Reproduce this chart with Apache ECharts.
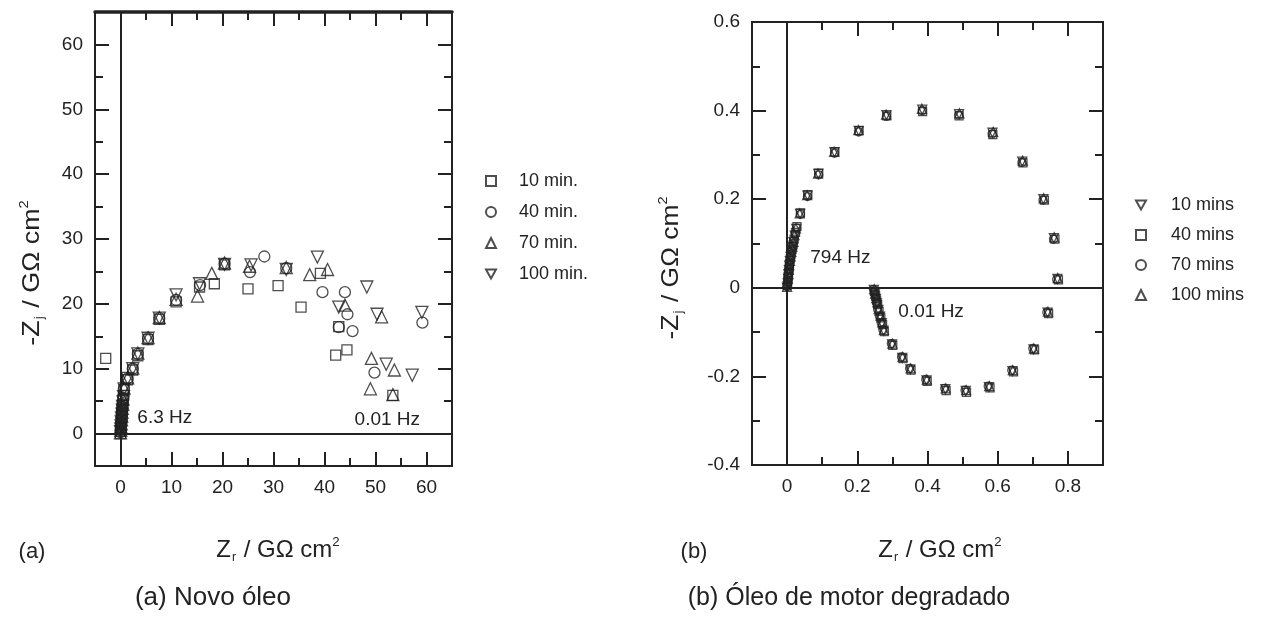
<!DOCTYPE html>
<html>
<head>
<meta charset="utf-8">
<script src="https://cdn.jsdelivr.net/npm/echarts@6/dist/echarts.min.js"></script>
<style>
html, body { margin: 0; padding: 0; background: #fff; }
#chart { width: 1264px; height: 621px; }
</style>
</head>
<body>
<div id="chart"></div>
<script>
// (a) novo oleo: Nyquist, -Zj vs Zr (G ohm cm2)
var namesA = ["10 min.", "40 min.", "70 min.", "100 min."];
var a10 = [[0, 0], [0.05, 0.4], [0.1, 0.9], [0.15, 1.4], [0.2, 2], [0.25, 2.6], [0.3, 3.2], [0.35, 3.8],
	[0.4, 4.4], [0.5, 5.1], [0.6, 5.9], [0.7, 6.8], [1.4, 8.3], [2.4, 9.8], [3.4, 12], [5.4, 14.5],
	[7.6, 17.6], [10.9, 20.3], [15.5, 22.6], [18.4, 23.1], [20.4, 26], [25, 22.3], [30.9, 22.8],
	[35.4, 19.5], [39.2, 24.7], [42.8, 16.5], [42.2, 12.1], [44.4, 12.9], [53.4, 5.9], [-2.9, 11.6]];
var a40 = [[0, 0.2], [0.05, 0.6], [0.1, 1.1], [0.15, 1.7], [0.2, 2.3], [0.25, 2.9], [0.3, 3.5], [0.4, 4.1],
	[0.45, 4.7], [0.55, 5.5], [0.65, 6.9], [1.4, 8.5], [2.4, 10], [3.4, 12.3], [5.4, 14.7], [7.6, 17.8],
	[10.9, 20.6], [15.6, 22.9], [20.4, 26.2], [25.4, 24.9], [28.2, 27.3], [32.5, 25.5], [39.6, 21.8],
	[44, 21.8], [44.5, 18.4], [42.8, 16.4], [45.5, 15.8], [49.8, 9.4], [59.2, 17.1]];
var a70 = [[0, 0.1], [0.05, 0.5], [0.1, 1], [0.15, 1.5], [0.2, 2.1], [0.25, 2.7], [0.3, 3.3], [0.35, 3.9],
	[0.45, 4.5], [0.5, 5.3], [0.7, 7], [1.4, 8.6], [2.4, 10.1], [3.4, 12.4], [5.4, 14.8], [7.6, 17.9],
	[10.9, 20.7], [15.1, 21.2], [17.9, 24.7], [20.4, 26.3], [25.3, 25.8], [32.5, 25.6], [37.1, 24.5],
	[40.6, 25.3], [44, 19.8], [51.2, 18], [49.2, 11.6], [49, 6.9], [53.7, 9.8], [53.4, 6]];
var a100 = [[0, 0.3], [0.05, 0.7], [0.1, 1.2], [0.15, 1.8], [0.2, 2.4], [0.3, 3], [0.35, 3.6], [0.4, 4.2],
	[0.5, 4.9], [0.6, 5.7], [0.7, 6.9], [1.4, 8.5], [2.4, 10], [3.4, 12.3], [5.4, 14.7], [7.6, 17.8],
	[10.9, 21.4], [15.5, 23.1], [20.4, 26.1], [25.6, 26], [32.5, 25.3], [38.6, 27.2], [42.8, 19.5],
	[48.3, 22.6], [50.3, 18.4], [52.1, 10.7], [57.2, 9], [59.1, 18.7]];

// (b) oleo de motor degradado
var namesB = ["10 mins", "40 mins", "70 mins", "100 mins"];
var b10 = [[0, 0], [0.002, 0.01], [0.003, 0.02], [0.004, 0.03], [0.005, 0.04], [0.006, 0.05], [0.008, 0.06],
	[0.01, 0.07], [0.013, 0.08], [0.016, 0.092], [0.018, 0.103], [0.022, 0.118], [0.026, 0.133],
	[0.037, 0.167], [0.058, 0.208], [0.089, 0.257], [0.135, 0.306], [0.204, 0.354], [0.283, 0.39],
	[0.385, 0.402], [0.49, 0.392], [0.585, 0.35], [0.67, 0.285], [0.73, 0.2], [0.76, 0.112], [0.77, 0.02],
	[0.742, -0.056], [0.702, -0.139], [0.642, -0.188], [0.575, -0.224], [0.509, -0.233], [0.451, -0.229],
	[0.397, -0.209], [0.351, -0.184], [0.328, -0.158], [0.299, -0.128], [0.275, -0.097], [0.27, -0.08],
	[0.265, -0.065], [0.26, -0.05], [0.256, -0.035], [0.253, -0.025], [0.25, -0.015], [0.247, -0.005]];
var b40 = [[0, 0.005], [0.002, 0.015], [0.003, 0.025], [0.004, 0.035], [0.006, 0.045], [0.007, 0.055],
	[0.009, 0.065], [0.011, 0.075], [0.014, 0.086], [0.017, 0.097], [0.02, 0.11], [0.024, 0.125],
	[0.028, 0.138], [0.038, 0.169], [0.059, 0.21], [0.09, 0.259], [0.136, 0.307], [0.205, 0.355],
	[0.284, 0.388], [0.386, 0.398], [0.49, 0.388], [0.586, 0.346], [0.672, 0.282], [0.733, 0.198],
	[0.763, 0.11], [0.773, 0.018], [0.745, -0.058], [0.705, -0.14], [0.645, -0.19], [0.578, -0.226],
	[0.511, -0.236], [0.453, -0.232], [0.399, -0.211], [0.353, -0.186], [0.33, -0.16], [0.301, -0.13],
	[0.277, -0.099], [0.272, -0.083], [0.267, -0.068], [0.262, -0.053], [0.258, -0.038],
	[0.255, -0.028], [0.252, -0.018], [0.249, -0.008]];
var b70 = [[0, 0.003], [0.002, 0.012], [0.003, 0.022], [0.005, 0.032], [0.006, 0.042], [0.007, 0.052],
	[0.009, 0.062], [0.011, 0.072], [0.014, 0.083], [0.017, 0.095], [0.019, 0.106], [0.023, 0.121],
	[0.027, 0.135], [0.038, 0.166], [0.058, 0.206], [0.09, 0.255], [0.135, 0.304], [0.204, 0.352],
	[0.283, 0.387], [0.385, 0.4], [0.489, 0.39], [0.584, 0.347], [0.669, 0.283], [0.729, 0.198],
	[0.759, 0.11], [0.768, 0.019], [0.74, -0.055], [0.7, -0.137], [0.64, -0.186], [0.573, -0.222],
	[0.507, -0.231], [0.449, -0.227], [0.395, -0.207], [0.349, -0.182], [0.326, -0.156], [0.297, -0.126],
	[0.273, -0.095], [0.268, -0.079], [0.263, -0.064], [0.258, -0.049], [0.255, -0.034],
	[0.252, -0.024], [0.249, -0.014], [0.246, -0.004]];
var b100 = [[0, 0.002], [0.001, 0.011], [0.002, 0.021], [0.004, 0.031], [0.005, 0.041], [0.006, 0.051],
	[0.008, 0.061], [0.01, 0.071], [0.012, 0.081], [0.015, 0.093], [0.018, 0.104], [0.021, 0.119],
	[0.025, 0.134], [0.036, 0.168], [0.057, 0.209], [0.088, 0.258], [0.134, 0.307], [0.203, 0.356],
	[0.282, 0.391], [0.384, 0.404], [0.491, 0.394], [0.587, 0.352], [0.671, 0.287], [0.731, 0.202],
	[0.761, 0.114], [0.771, 0.022], [0.743, -0.054], [0.703, -0.137], [0.643, -0.186], [0.576, -0.222],
	[0.51, -0.231], [0.452, -0.227], [0.398, -0.207], [0.352, -0.182], [0.329, -0.156], [0.3, -0.126],
	[0.276, -0.095], [0.271, -0.078], [0.266, -0.063], [0.261, -0.048], [0.257, -0.033],
	[0.254, -0.023], [0.251, -0.013], [0.248, -0.003]];

// ticks
var majorAX = [0, 10, 20, 30, 40, 50, 60];
var minorAX = [5, 15, 25, 35, 45, 55];
var majorAY = [0, 10, 20, 30, 40, 50, 60];
var minorAY = [5, 15, 25, 35, 45, 55];
var majorBX = [0, 0.2, 0.4, 0.6, 0.8];
var minorBX = [0.1, 0.3, 0.5, 0.7];
var majorBY = [-0.4, -0.2, 0, 0.2, 0.4, 0.6];
var minorBY = [-0.3, -0.1, 0.1, 0.3, 0.5];

var FONT = '"Liberation Sans Narrow", "Liberation Sans", Arial, sans-serif';
var FONT_CAP = '"Liberation Sans", Arial, sans-serif';
var INK = "#222";

// simbolos ocos
var SYM_SQ = "rect";
var SYM_CI = "circle";
var SYM_UP = "triangle";
var SYM_DN = "path://M0,0L10,0L5,9Z";

// gera os eixos de uma caixa (ticks para dentro nos 4 lados)
function box_axes(grid, min, max, major, minor, pos, labelSize) {
	var list = [];
	pos.forEach(function (p, k) {
		[major, minor].forEach(function (vals, m) {
			list.push({
				type: "value", gridIndex: grid, position: p, min: min, max: max,
				axisLine: { show: false, onZero: false },
				splitLine: { show: false },
				axisTick: {
					show: true, inside: true, length: m ? 8 : 14,
					customValues: vals,
					lineStyle: { color: INK, width: 2 }
				},
				axisLabel: {
					show: k === 0 && m === 0,
					customValues: vals,
					margin: 12,
					fontFamily: FONT, fontSize: labelSize, color: INK
				}
			});
		});
	});
	return list;
}

function hollow(name, sym, size, data, xi, yi) {
	return {
		type: "scatter", name: name, data: data,
		xAxisIndex: xi, yAxisIndex: yi,
		symbol: sym, symbolSize: size,
		itemStyle: { color: "rgba(255,255,255,0)", borderColor: INK, borderWidth: 1.3 }
	};
}

var xAxes = box_axes(0, -5, 65, majorAX, minorAX, ["bottom", "top"], 19)
	.concat(box_axes(1, -0.1, 0.9, majorBX, minorBX, ["bottom", "top"], 19));
var yAxes = box_axes(0, -5, 65, majorAY, minorAY, ["left", "right"], 19)
	.concat(box_axes(1, -0.4, 0.6, majorBY, minorBY, ["left", "right"], 19));
// borda superior mais grossa no grafico (a)
xAxes[2].axisLine = { show: true, onZero: false, lineStyle: { color: INK, width: 3.5 } };

var zeroLine = {
	silent: true, symbol: ["none", "none"],
	label: { show: false },
	lineStyle: { color: INK, type: "solid", width: 2 },
	data: [{ xAxis: 0 }, { yAxis: 0 }]
};
var hzLabel = {
	show: true, position: "right", distance: 0, formatter: "{b}",
	fontFamily: FONT, fontSize: 19, color: INK
};

var sA = [
	hollow(namesA[0], SYM_SQ, 10, a10, 0, 0),
	hollow(namesA[1], SYM_CI, 11, a40, 0, 0),
	hollow(namesA[2], SYM_UP, 12, a70, 0, 0),
	hollow(namesA[3], SYM_DN, 12, a100, 0, 0)
];
sA[0].markLine = zeroLine;
sA[0].markPoint = {
	symbol: "circle", symbolSize: 0, label: hzLabel,
	data: [{ name: "6.3 Hz", coord: [3.3, 2.5] }, { name: "0.01 Hz", coord: [45.9, 2.2] }]
};
var sB = [
	hollow(namesB[0], SYM_DN, 9, b10, 4, 4),
	hollow(namesB[1], SYM_SQ, 8, b40, 4, 4),
	hollow(namesB[2], SYM_CI, 8, b70, 4, 4),
	hollow(namesB[3], SYM_UP, 9, b100, 4, 4)
];
sB[0].markLine = zeroLine;
sB[0].markPoint = {
	symbol: "circle", symbolSize: 0, label: hzLabel,
	data: [{ name: "794 Hz", coord: [0.066, 0.068] }, { name: "0.01 Hz", coord: [0.317, -0.054] }]
};

function title_rich(size, font) {
	return {
		m: { fontFamily: font, fontSize: size, fill: INK, lineHeight: size + 4 },
		sub: { fontFamily: font, fontSize: size * 0.5, fill: INK, verticalAlign: "bottom", padding: [0, 1, 0, 1] },
		sup: { fontFamily: font, fontSize: size * 0.55, fill: INK, verticalAlign: "top" }
	};
}
function txt(x, y, text, size, rot, rich, font, sx) {
	return {
		type: "text", x: x, y: y, rotation: rot || 0, scaleX: sx || 1,
		style: {
			text: text, fontFamily: font || FONT, fontSize: size, fill: INK,
			align: "center", verticalAlign: "middle", rich: rich
		}
	};
}

var yTitle = "{m|-Z}{sub|j}{m| / G\u03a9 cm}{sup|2}";
var xTitle = "{m|Z}{sub|r}{m| / G\u03a9 cm}{sup|2}";

var chart = echarts.init(document.getElementById("chart"));
chart.setOption({
	animation: false,
	backgroundColor: "#fff",
	grid: [
		{ left: 95, top: 12, width: 357, height: 454, show: true, borderColor: INK, borderWidth: 2 },
		{ left: 752, top: 22, width: 351, height: 443, show: true, borderColor: INK, borderWidth: 2 }
	],
	xAxis: xAxes,
	yAxis: yAxes,
	legend: [
		{
			data: namesA, orient: "vertical", left: 485, top: 172, padding: 0,
			itemWidth: 10, itemHeight: 10, itemGap: 13, selectedMode: false,
			textStyle: { fontFamily: FONT, fontSize: 18, color: INK, padding: [0, 0, 0, 18] }
		},
		{
			data: namesB, orient: "vertical", left: 1135, top: 196, padding: 0,
			itemWidth: 10, itemHeight: 10, itemGap: 12, selectedMode: false,
			textStyle: { fontFamily: FONT, fontSize: 18, color: INK, padding: [0, 0, 0, 20] }
		}
	],
	graphic: [
		txt(32, 273, yTitle, 24, Math.PI / 2, title_rich(24, FONT_CAP), FONT_CAP, 1.12),
		txt(671, 268, yTitle, 24, Math.PI / 2, title_rich(24, FONT_CAP), FONT_CAP, 1.1),
		txt(278, 550, xTitle, 24, 0, title_rich(24, FONT), FONT),
		txt(940, 550, xTitle, 24, 0, title_rich(24, FONT), FONT),
		txt(32, 552, "(a)", 22),
		txt(694, 552, "(b)", 22),
		txt(213, 598, "(a) Novo \u00f3leo", 26, 0, null, FONT_CAP),
		txt(849, 598, "(b) \u00d3leo de motor degradado", 25, 0, null, FONT_CAP)
	],
	series: sA.concat(sB)
});
window.addEventListener("resize", chart.resize);
</script>
</body>
</html>
